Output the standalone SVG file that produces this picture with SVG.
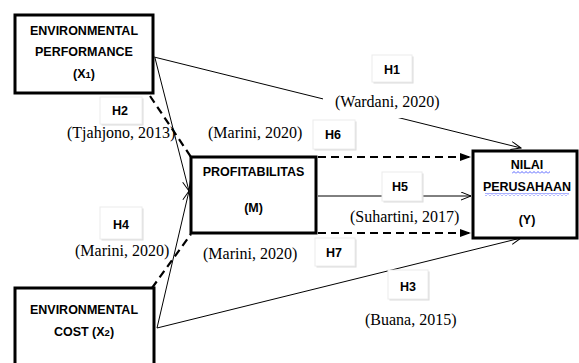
<svg xmlns="http://www.w3.org/2000/svg" width="579" height="363" viewBox="0 0 579 363">
<defs>
<style>
.box{fill:#fff;stroke:#000;stroke-width:3}
.bt{font-family:"Liberation Sans",Arial,sans-serif;font-weight:bold;font-size:12.5px;fill:#000;text-anchor:middle}
.ref{font-family:"Liberation Serif","Times New Roman",serif;font-size:16px;fill:#000}
.hl{font-family:"Liberation Sans",Arial,sans-serif;font-weight:bold;font-size:12.5px;fill:#000;text-anchor:middle}
.sol{stroke:#000;stroke-width:1;fill:none}
.dash{stroke:#000;stroke-width:2.2;fill:none;stroke-dasharray:8 5}
.hsh{fill:#dcdcdc}
.hbx{fill:#fff;stroke:#ececec;stroke-width:1}
.wv{fill:url(#wave)}
</style>
<marker id="open" markerUnits="userSpaceOnUse" markerWidth="12" markerHeight="10" refX="11" refY="4.5" orient="auto">
<path d="M1,0.5 L11,4.5 L1,8.5" fill="none" stroke="#000" stroke-width="1"/>
</marker>
<marker id="fill" markerUnits="userSpaceOnUse" markerWidth="12" markerHeight="10" refX="11" refY="4.5" orient="auto">
<path d="M0,0.5 L11,4.5 L0,8.5 z" fill="#000"/>
</marker>
<pattern id="wave" width="4" height="3" patternUnits="userSpaceOnUse">
<path d="M0,2.5 L2,0.5 L4,2.5" fill="none" stroke="#2b3cff" stroke-width="0.8"/>
</pattern>
</defs>
<rect width="579" height="363" fill="#fff"/>

<g id="connectors">
<path class="sol" d="M154,57 L521,148" marker-end="url(#open)"/>
<path class="sol" d="M157,328 L521,238" marker-end="url(#open)"/>
<path class="sol" d="M155,58 L189,191" marker-end="url(#open)"/>
<path class="sol" d="M157,328 L189,191" marker-end="url(#open)"/>
<path class="dash" d="M150,96 L191,157"/>
<path class="dash" d="M152,288 L191,234"/>
<path class="sol" d="M318,196 L471,196" marker-end="url(#open)"/>
<path class="dash" d="M318,157 L471,157" marker-end="url(#fill)"/>
<path class="dash" d="M318,233 L471,233" marker-end="url(#fill)"/>
</g>

<g id="ref-wardani">
<rect x="323" y="88" width="126" height="30" fill="#fff"/>
<text class="ref" x="335" y="107">(Wardani, 2020)</text>
</g>
<g id="ref-tjahjono"><text class="ref" x="67" y="138">(Tjahjono, 2013)</text></g>
<g id="ref-marini1"><text class="ref" x="208" y="138">(Marini, 2020)</text></g>
<g id="ref-marini2"><text class="ref" x="75" y="256">(Marini, 2020)</text></g>
<g id="ref-marini3"><text class="ref" x="203" y="259">(Marini, 2020)</text></g>
<g id="ref-suhartini"><text class="ref" x="350" y="222">(Suhartini, 2017)</text></g>
<g id="ref-buana"><text class="ref" x="365" y="325">(Buana, 2015)</text></g>

<g id="H1"><rect class="hsh" x="373.5" y="56.5" width="40" height="27"/><rect class="hbx" x="372" y="55" width="40" height="27"/><text class="hl" x="392" y="74">H1</text></g>
<g id="H2"><rect class="hsh" x="101.5" y="98.5" width="42" height="27"/><rect class="hbx" x="100" y="97" width="42" height="27"/><text class="hl" x="120" y="115">H2</text></g>
<g id="H6"><rect class="hsh" x="314.5" y="121.5" width="42" height="29"/><rect class="hbx" x="313" y="120" width="42" height="29"/><text class="hl" x="333" y="139">H6</text></g>
<g id="H5"><rect class="hsh" x="383.5" y="173.5" width="40" height="29"/><rect class="hbx" x="382" y="172" width="40" height="29"/><text class="hl" x="400" y="191">H5</text></g>
<g id="H7"><rect class="hsh" x="316.5" y="239.5" width="40" height="28"/><rect class="hbx" x="315" y="238" width="40" height="28"/><text class="hl" x="334" y="257">H7</text></g>
<g id="H4"><rect class="hsh" x="101.5" y="208.5" width="42" height="32"/><rect class="hbx" x="100" y="207" width="42" height="32"/><text class="hl" x="121" y="229">H4</text></g>
<g id="H3"><rect class="hsh" x="389.5" y="271.5" width="40" height="29"/><rect class="hbx" x="388" y="270" width="40" height="29"/><text class="hl" x="408" y="291">H3</text></g>

<g id="X1">
<rect class="box" x="15" y="15" width="138" height="78"/>
<text class="bt" x="84" y="35">ENVIRONMENTAL</text>
<text class="bt" x="84" y="56">PERFORMANCE</text>
<text class="bt" x="84" y="78">(X<tspan font-size="9.5">1</tspan>)</text>
</g>
<g id="X2">
<rect class="box" x="15" y="288" width="139" height="85"/>
<text class="bt" x="84" y="314">ENVIRONMENTAL</text>
<text class="bt" x="84" y="336">COST (X<tspan font-size="9.5">2</tspan>)</text>
</g>
<g id="M">
<rect class="box" x="191" y="157" width="125" height="76"/>
<text class="bt" x="253.5" y="176">PROFITABILITAS</text>
<text class="bt" x="253.5" y="212">(M)</text>
</g>
<g id="Y">
<rect class="box" x="473" y="151" width="104" height="87"/>
<text class="bt" x="527" y="169">NILAI</text>
<rect class="wv" x="512" y="171" width="38" height="3"/>
<text class="bt" x="527" y="191">PERUSAHAAN</text>
<rect class="wv" x="485" y="193" width="84" height="3"/>
<text class="bt" x="527" y="224">(Y)</text>
</g>
</svg>
